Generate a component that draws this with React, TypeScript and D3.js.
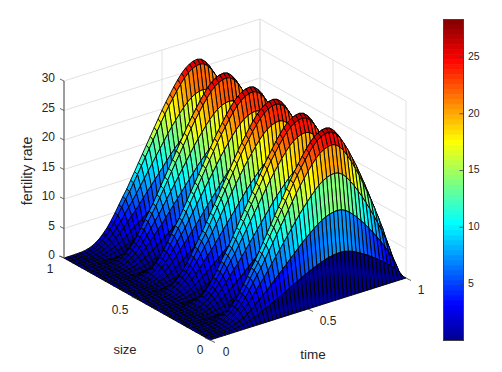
import React from 'react';
import * as d3 from 'd3';

// fertility rate along time (t = 0, 0.02 ... 1)
const timeProfile = [
  0, 0, 0, 0.02, 0.05, 0.1, 0.25, 0.5, 0.9, 1.4, 2.1, 2.9, 3.9, 5, 6.2, 7.4, 8.5, 9.8, 11.1, 12.4, 13.7, 15, 16.3,
  17.6, 18.9, 20.2, 21.4, 22.5, 23.6, 24.6, 25.5, 26.2, 26.7, 27, 27.1, 26.9, 26.3, 25.4, 24.2, 22.9, 21.4, 19.9,
  18.2, 16.5, 14.7, 12.8, 10.8, 8.7, 6.3, 3.6, 0,
];
// relative height across size (s = 0, 0.02 ... 1), six ridges with empty valleys between
const sizeProfile = [
  0, 0.274, 0.526, 0.748, 0.915, 0.985, 1,
  0.7, 0.3, 0, 0.27, 0.5, 0.73, 0.9, 0.98, 1,
  0.7, 0.3, 0, 0.26, 0.48, 0.71, 0.88, 0.975, 0.995,
  0.6, 0, 0.26, 0.46, 0.69, 0.86, 0.97, 0.99,
  0.7, 0.3, 0, 0.25, 0.44, 0.67, 0.83, 0.965, 0.985,
  0.7, 0.3, 0, 0.25, 0.43, 0.65, 0.81, 0.96, 0.98,
];
const zTicks = [0, 5, 10, 15, 20, 25, 30];
const planeTicks = [0, 0.5, 1];
const barTicks = [5, 10, 15, 20, 25];
const jetStops = ['#00008f', '#0000ff', '#00ffff', '#ffff00', '#ff0000', '#800000'];
const jetOffsets = [0, 0.111, 0.365, 0.619, 0.873, 1];
const colorMin = 0.07;
const colorMax = 28.35;

const timeX = d3.scaleLinear().domain([0, 1]).range([0, 196]);
const timeY = d3.scaleLinear().domain([0, 1]).range([0, -62]);
const sizeX = d3.scaleLinear().domain([0, 1]).range([0, -146]);
const sizeY = d3.scaleLinear().domain([0, 1]).range([0, -82]);
const zY = d3.scaleLinear().domain([0, 30]).range([0, -177]);

const project = (t: number, s: number, z: number): [number, number] => [
  210 + timeX(t) + sizeX(s),
  340 + timeY(t) + sizeY(s) + zY(z),
];

const jetT = d3.scaleLinear<string>().domain(jetOffsets).range(jetStops).interpolate(d3.interpolateRgb).clamp(true);
const colorScale = (z: number) => jetT((z - colorMin) / (colorMax - colorMin));
const barY = d3.scaleLinear().domain([colorMin, colorMax]).range([340, 19]);

const path = d3.line();
const AXIS = '#404040';
const TEXT = '#262626';
const GRID = '#e2e2e2';
const FONT = '"Liberation Sans", Arial, sans-serif';

const heights = sizeProfile.map((f) => timeProfile.map((v) => v * f));

const faces: { d: string; fill: string }[] = [];
for (let j = sizeProfile.length - 2; j >= 0; j--) {
  for (let i = timeProfile.length - 2; i >= 0; i--) {
    const t0 = i / (timeProfile.length - 1);
    const t1 = (i + 1) / (timeProfile.length - 1);
    const s0 = j / (sizeProfile.length - 1);
    const s1 = (j + 1) / (sizeProfile.length - 1);
    const ring = [
      project(t0, s0, heights[j][i]),
      project(t1, s0, heights[j][i + 1]),
      project(t1, s1, heights[j + 1][i + 1]),
      project(t0, s1, heights[j + 1][i]),
    ];
    faces.push({ d: path(ring) + 'Z', fill: colorScale(heights[j][i]) });
  }
}

const colorSteps = d3.range(64);

export default function App() {
  const seg = (a: [number, number], b: [number, number]) => path([a, b]) as string;
  return (
    <svg width={502} height={372} style={{ position: 'absolute', left: 0, top: 0, background: '#fff' }} fontFamily={FONT}>
      {/* back walls and floor grid */}
      <g stroke={GRID} strokeWidth={1} fill="none">
        {zTicks.map((z) => (
          <g key={z}>
            <path d={seg(project(0, 1, z), project(1, 1, z))} />
            <path d={seg(project(1, 1, z), project(1, 0, z))} />
          </g>
        ))}
        {planeTicks.map((v) => (
          <g key={v}>
            <path d={seg(project(v, 1, 0), project(v, 1, 30))} />
            <path d={seg(project(1, v, 0), project(1, v, 30))} />
            <path d={seg(project(v, 0, 0), project(v, 1, 0))} />
            <path d={seg(project(0, v, 0), project(1, v, 0))} />
          </g>
        ))}
      </g>

      {/* surface */}
      <g stroke="#000" strokeWidth={0.9} strokeLinejoin="round">
        {faces.map((f, k) => (
          <path key={k} d={f.d} fill={f.fill} />
        ))}
      </g>

      {/* z axis */}
      <path d={seg(project(0, 1, 0), project(0, 1, 30))} stroke="#808080" strokeWidth={1.5} fill="none" />
      {zTicks.map((z) => {
        const [x, y] = project(0, 1, z);
        return (
          <g key={z}>
            <path d={seg([x, y], [x - 4, y - 2])} stroke={AXIS} strokeWidth={0.8} />
            <text x={x - 9} y={y - 2} fontSize={12} fill={TEXT} textAnchor="end" dominantBaseline="middle">
              {z}
            </text>
          </g>
        );
      })}

      {/* floor axis ticks */}
      {planeTicks.map((v) => {
        const [sx, sy] = project(0, v, 0);
        const [tx, ty] = project(v, 0, 0);
        return (
          <g key={v} stroke={AXIS} strokeWidth={0.8}>
            <path d={seg([sx, sy], [sx - 5, sy - 2])} />
            <path d={seg([tx, ty], [tx + 5, ty + 2.5])} />
          </g>
        );
      })}
      {[
        { x: 50, y: 270, s: '1' },
        { x: 120, y: 311, s: '0.5' },
        { x: 200, y: 351, s: '0' },
        { x: 226, y: 353, s: '0' },
        { x: 328, y: 322, s: '0.5' },
        { x: 421, y: 291, s: '1' },
      ].map((l) => (
        <text key={l.x} x={l.x} y={l.y} fontSize={12} fill={TEXT} textAnchor="middle" dominantBaseline="middle">
          {l.s}
        </text>
      ))}
      <text x={125} y={351} fontSize={13} fill={TEXT} textAnchor="middle" dominantBaseline="middle">size</text>
      <text x={313} y={355} fontSize={13.5} fill={TEXT} textAnchor="middle" dominantBaseline="middle">time</text>
      <text transform="translate(28,171) rotate(-90)" fontSize={14} fill={TEXT} textAnchor="middle" dominantBaseline="middle">
        fertility rate
      </text>

      {/* colorbar */}
      {colorSteps.map((k) => {
        const lo = colorMin + ((colorMax - colorMin) * k) / 64;
        const hi = colorMin + ((colorMax - colorMin) * (k + 1)) / 64;
        return (
          <rect key={k} x={443.5} y={barY(hi)} width={20} height={barY(lo) - barY(hi) + 0.5} fill={colorScale((lo + hi) / 2)} />
        );
      })}
      <rect x={443.5} y={19.5} width={20} height={321} fill="none" stroke={AXIS} strokeWidth={1} />
      {barTicks.map((v) => (
        <g key={v}>
          <path d={seg([459.5, barY(v)], [463.5, barY(v)])} stroke={AXIS} strokeWidth={0.8} />
          <text x={468} y={barY(v)} fontSize={10.5} fill={TEXT} dominantBaseline="middle">
            {v}
          </text>
        </g>
      ))}
    </svg>
  );
}
